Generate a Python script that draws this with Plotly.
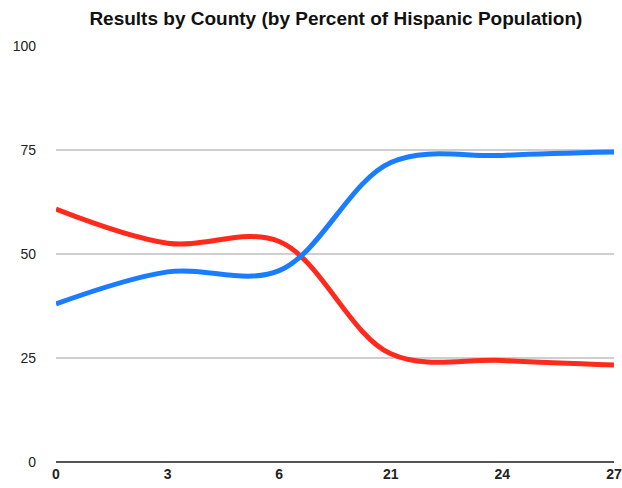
import plotly.graph_objects as go

categories = ["0", "3", "6", "21", "24", "27"]
red_values = [60.8, 52.6, 53.0, 26.0, 24.4, 23.3]
blue_values = [38.0, 45.7, 46.0, 72.0, 73.7, 74.5]
y_ticks = [0, 25, 50, 75, 100]

x_idx = list(range(len(categories)))

fig = go.Figure()
fig.add_trace(go.Scatter(x=x_idx, y=red_values, mode="lines",
                         line=dict(color="#ff2a1c", width=5, shape="spline", smoothing=1.0),
                         showlegend=False, hoverinfo="skip", cliponaxis=False))
fig.add_trace(go.Scatter(x=x_idx, y=blue_values, mode="lines",
                         line=dict(color="#1a7dff", width=5, shape="spline", smoothing=1.0),
                         showlegend=False, hoverinfo="skip", cliponaxis=False))

fig.update_layout(
    width=622, height=488,
    margin=dict(l=56, r=8, t=46, b=26, autoexpand=False),
    paper_bgcolor="white", plot_bgcolor="white",
    title=dict(text="<b>Results by County (by Percent of Hispanic Population)</b>",
               x=0.54, xanchor="center", y=0.963, yanchor="middle",
               font=dict(family="Liberation Sans, Arial", size=19, color="#111")),
    xaxis=dict(range=[0, 5.0005], tickvals=x_idx, ticktext=[f"<b>{c}</b>" for c in categories],
               showgrid=False, zeroline=False, showline=False, automargin=False,
               tickfont=dict(family="Liberation Sans, Arial", size=14, color="#222"),
               ticks="", ticklabelstandoff=2, fixedrange=True),
    yaxis=dict(range=[0, 100], tickvals=y_ticks, showgrid=True, gridcolor="#cfcfcf", gridwidth=2,
               zeroline=True, zerolinecolor="#555", zerolinewidth=2, showline=False, automargin=False,
               tickfont=dict(family="Liberation Sans, Arial", size=14, color="#222"),
               ticks="", ticklabelstandoff=19, fixedrange=True),
)

fig.write_html("out.html")
